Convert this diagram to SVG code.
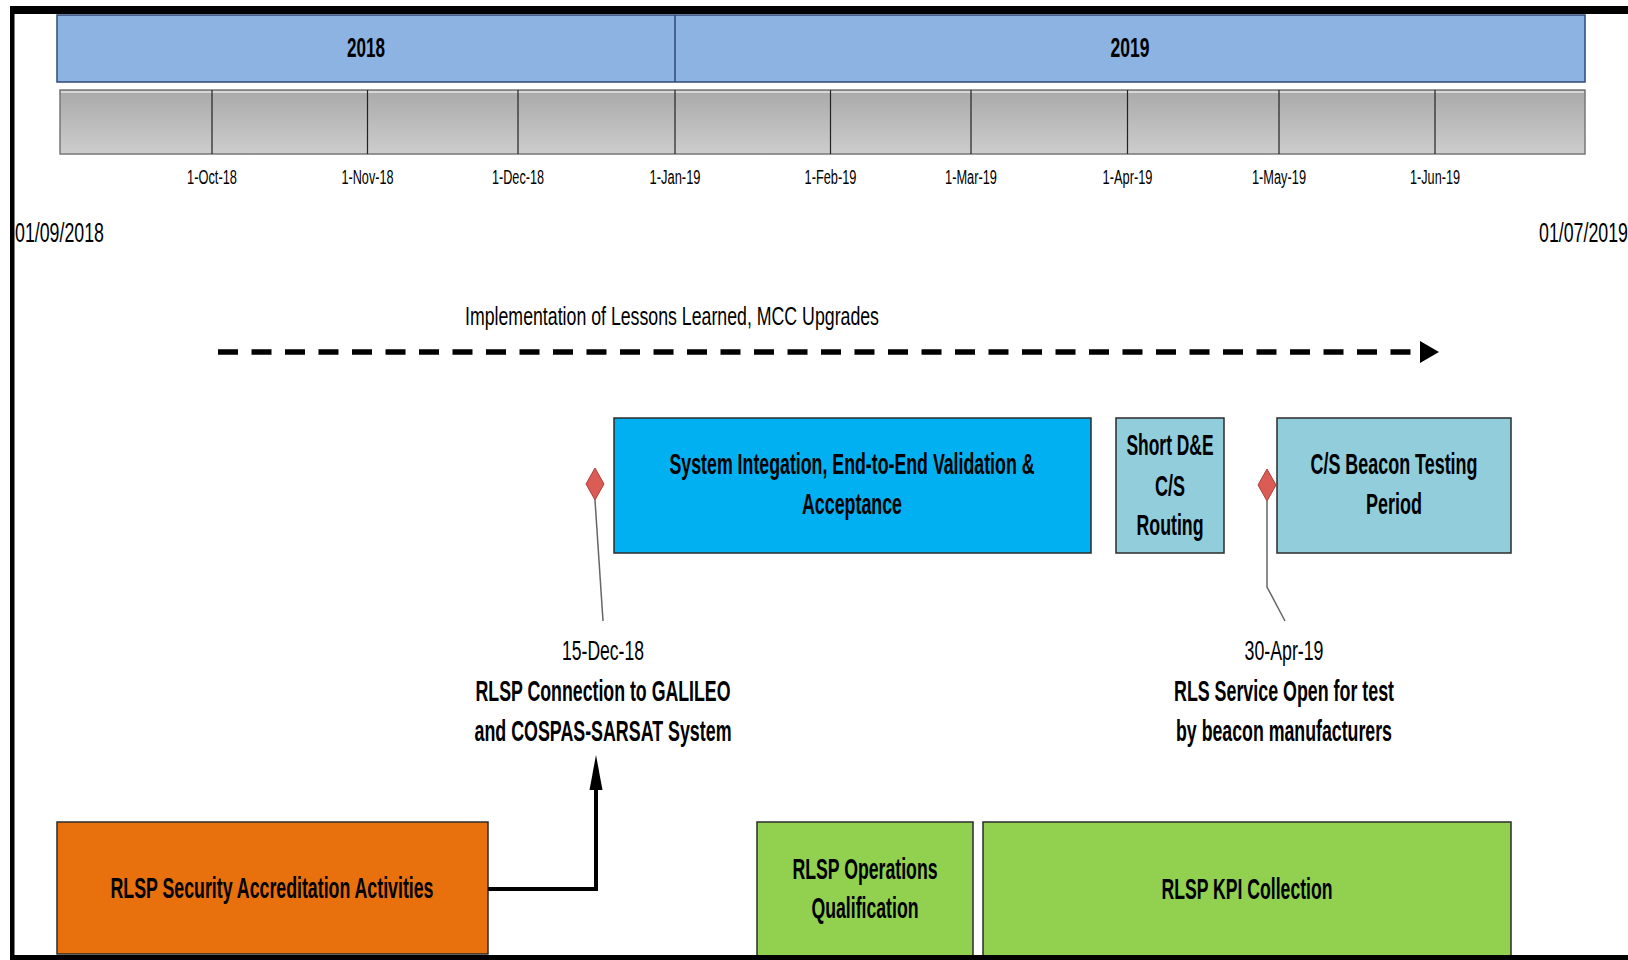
<svg xmlns="http://www.w3.org/2000/svg" width="1628" height="960" viewBox="0 0 1628 960">
<defs>
<linearGradient id="gray" x1="0" y1="0" x2="0" y2="1">
<stop offset="0" stop-color="#a9a9a9"/>
<stop offset="1" stop-color="#cdcdcd"/>
</linearGradient>
<style>
.t{font-family:"Liberation Sans",Arial,sans-serif;fill:#000}
.b{font-weight:bold}
.box{stroke:#2b2b2b;stroke-width:1.5}
.mid{text-anchor:middle}
.tick{font-size:20px}
.lbl{font-size:30px}
.div{stroke:#222;stroke-width:1.2}
</style>
</defs>
<rect width="1628" height="960" fill="#fff"/>

<g id="year-bar">
<rect x="57" y="15" width="1528" height="67" fill="#8db3e2" stroke="#2f4a77" stroke-width="1.5"/>
<line x1="675" y1="15" x2="675" y2="82" stroke="#2f4a77" stroke-width="1.5"/>
<text class="t b mid" x="366" y="57" font-size="28" textLength="38" lengthAdjust="spacingAndGlyphs">2018</text>
<text class="t b mid" x="1130" y="57" font-size="28" textLength="39" lengthAdjust="spacingAndGlyphs">2019</text>
</g>

<g id="month-bar">
<rect x="60" y="90" width="1525" height="64" fill="url(#gray)" stroke="#777" stroke-width="1.5"/>
<line x1="61" y1="92" x2="1584" y2="92" stroke="#e6e6e6" stroke-width="1.5"/>
<line class="div" x1="212" y1="90" x2="212" y2="154"/>
<line class="div" x1="367.5" y1="90" x2="367.5" y2="154"/>
<line class="div" x1="518" y1="90" x2="518" y2="154"/>
<line class="div" x1="675" y1="90" x2="675" y2="154"/>
<line class="div" x1="830.5" y1="90" x2="830.5" y2="154"/>
<line class="div" x1="971" y1="90" x2="971" y2="154"/>
<line class="div" x1="1127.5" y1="90" x2="1127.5" y2="154"/>
<line class="div" x1="1279" y1="90" x2="1279" y2="154"/>
<line class="div" x1="1435" y1="90" x2="1435" y2="154"/>
<text class="t mid tick" x="212" y="184" textLength="50" lengthAdjust="spacingAndGlyphs">1-Oct-18</text>
<text class="t mid tick" x="367.5" y="184" textLength="52" lengthAdjust="spacingAndGlyphs">1-Nov-18</text>
<text class="t mid tick" x="518" y="184" textLength="52" lengthAdjust="spacingAndGlyphs">1-Dec-18</text>
<text class="t mid tick" x="675" y="184" textLength="51" lengthAdjust="spacingAndGlyphs">1-Jan-19</text>
<text class="t mid tick" x="830.5" y="184" textLength="52" lengthAdjust="spacingAndGlyphs">1-Feb-19</text>
<text class="t mid tick" x="971" y="184" textLength="52" lengthAdjust="spacingAndGlyphs">1-Mar-19</text>
<text class="t mid tick" x="1127.5" y="184" textLength="50" lengthAdjust="spacingAndGlyphs">1-Apr-19</text>
<text class="t mid tick" x="1279" y="184" textLength="54" lengthAdjust="spacingAndGlyphs">1-May-19</text>
<text class="t mid tick" x="1435" y="184" textLength="50" lengthAdjust="spacingAndGlyphs">1-Jun-19</text>
</g>

<g id="range-dates">
<text class="t" x="15" y="242" font-size="28" textLength="89" lengthAdjust="spacingAndGlyphs">01/09/2018</text>
<text class="t" x="1628" y="242" font-size="28" text-anchor="end" textLength="89" lengthAdjust="spacingAndGlyphs">01/07/2019</text>
</g>

<g id="lessons-learned">
<text class="t mid" x="672" y="325" font-size="25" textLength="414" lengthAdjust="spacingAndGlyphs">Implementation of Lessons Learned, MCC Upgrades</text>
<line x1="218" y1="352" x2="1420" y2="352" stroke="#000" stroke-width="5.5" stroke-dasharray="20 13.5"/>
<path d="M1420,341 L1439,352 L1420,363 Z" fill="#000"/>
</g>

<g id="system-integration">
<rect class="box" x="614" y="418" width="477" height="135" fill="#00b0f0"/>
<text class="t b mid lbl" x="852" y="474" textLength="365" lengthAdjust="spacingAndGlyphs">System Integation, End-to-End Validation &amp;</text>
<text class="t b mid lbl" x="852" y="514" textLength="100" lengthAdjust="spacingAndGlyphs">Acceptance</text>
</g>

<g id="short-de">
<rect class="box" x="1116" y="418" width="108" height="135" fill="#92cddc"/>
<text class="t b mid lbl" x="1170" y="455" textLength="87" lengthAdjust="spacingAndGlyphs">Short D&amp;E</text>
<text class="t b mid lbl" x="1170" y="496" textLength="30" lengthAdjust="spacingAndGlyphs">C/S</text>
<text class="t b mid lbl" x="1170" y="535" textLength="67" lengthAdjust="spacingAndGlyphs">Routing</text>
</g>

<g id="cs-beacon">
<rect class="box" x="1277" y="418" width="234" height="135" fill="#92cddc"/>
<text class="t b mid lbl" x="1394" y="474" textLength="167" lengthAdjust="spacingAndGlyphs">C/S Beacon Testing</text>
<text class="t b mid lbl" x="1394" y="514" textLength="56" lengthAdjust="spacingAndGlyphs">Period</text>
</g>

<g id="milestone-dec">
<line x1="595" y1="500" x2="603" y2="621" stroke="#666" stroke-width="1.5"/>
<path d="M595,468 L604,484 L595,500 L586,484 Z" fill="#db5c55" stroke="#a8403a" stroke-width="1"/>
<text class="t mid" x="603" y="660" font-size="28" textLength="82" lengthAdjust="spacingAndGlyphs">15-Dec-18</text>
<text class="t b mid lbl" x="603" y="701" textLength="255" lengthAdjust="spacingAndGlyphs">RLSP Connection to GALILEO</text>
<text class="t b mid lbl" x="603" y="741" textLength="257" lengthAdjust="spacingAndGlyphs">and COSPAS-SARSAT System</text>
</g>

<g id="milestone-apr">
<polyline points="1267,501 1267,587 1285,621" fill="none" stroke="#666" stroke-width="1.5"/>
<path d="M1267,469 L1276,485 L1267,501 L1258,485 Z" fill="#db5c55" stroke="#a8403a" stroke-width="1"/>
<text class="t mid" x="1284" y="660" font-size="28" textLength="79" lengthAdjust="spacingAndGlyphs">30-Apr-19</text>
<text class="t b mid lbl" x="1284" y="701" textLength="220" lengthAdjust="spacingAndGlyphs">RLS Service Open for test</text>
<text class="t b mid lbl" x="1284" y="741" textLength="216" lengthAdjust="spacingAndGlyphs">by beacon manufacturers</text>
</g>

<g id="security-accreditation">
<rect class="box" x="57" y="822" width="431" height="132" fill="#e8710d"/>
<text class="t b mid lbl" x="272" y="898" textLength="323" lengthAdjust="spacingAndGlyphs">RLSP Security Accreditation Activities</text>
</g>

<g id="operations-qualification">
<rect class="box" x="757" y="822" width="216" height="140" fill="#92d050"/>
<text class="t b mid lbl" x="865" y="879" textLength="145" lengthAdjust="spacingAndGlyphs">RLSP Operations</text>
<text class="t b mid lbl" x="865" y="918" textLength="107" lengthAdjust="spacingAndGlyphs">Qualification</text>
</g>

<g id="kpi-collection">
<rect class="box" x="983" y="822" width="528" height="140" fill="#92d050"/>
<text class="t b mid lbl" x="1247" y="899" textLength="171" lengthAdjust="spacingAndGlyphs">RLSP KPI Collection</text>
</g>

<g id="connectors">
<polyline points="488,889 596,889 596,786" fill="none" stroke="#000" stroke-width="4"/>
<path d="M596,755 L602.5,790 L589.5,790 Z" fill="#000"/>
</g>

<g id="frame">
<rect x="10" y="6" width="1618" height="8" fill="#000"/>
<rect x="10" y="6" width="4.5" height="954" fill="#000"/>
<rect x="10" y="955" width="1618" height="5" fill="#000"/>
</g>
</svg>
